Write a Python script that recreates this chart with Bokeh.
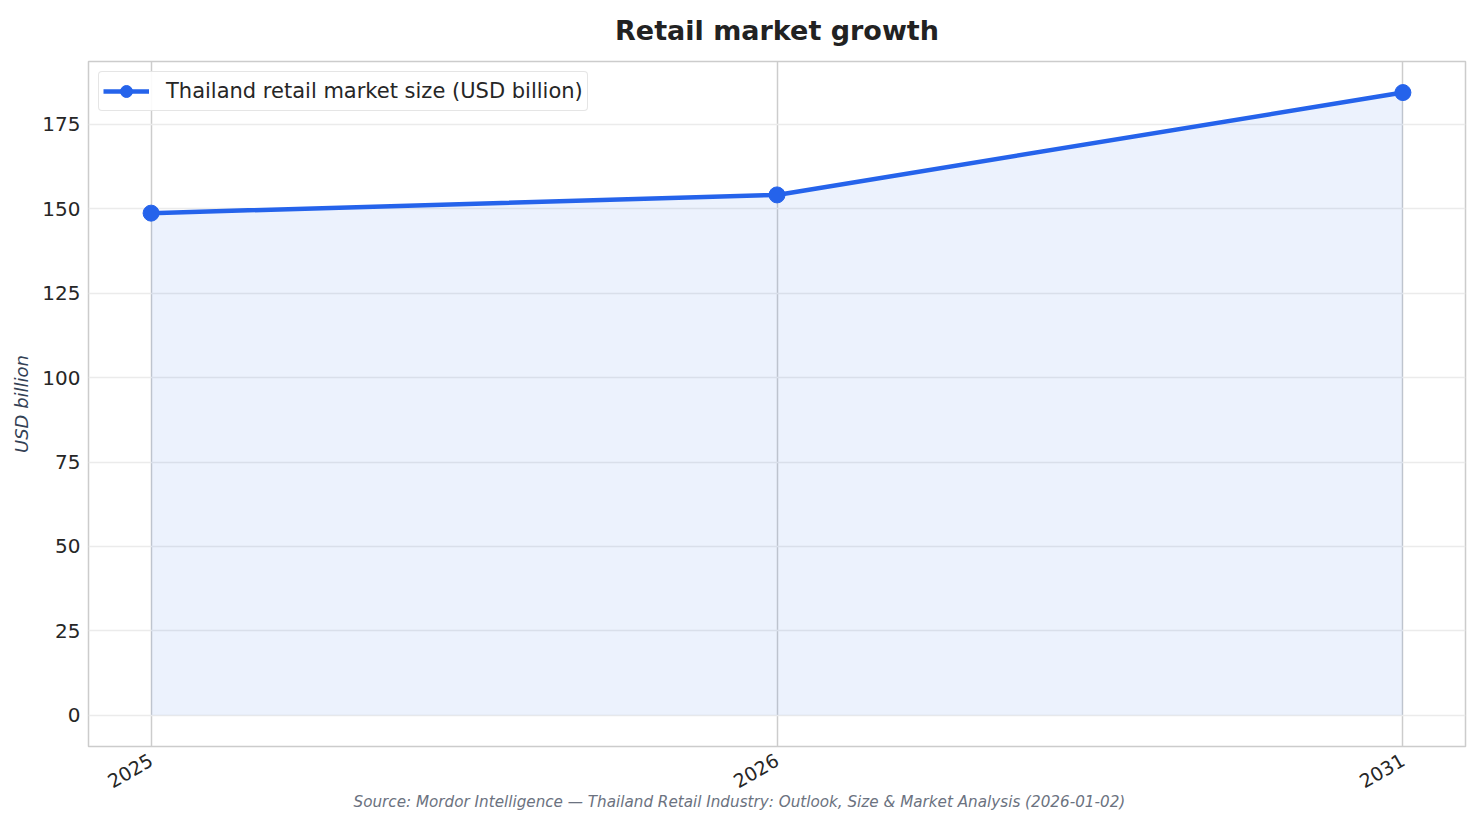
import math
from bokeh.plotting import figure
from bokeh.models import Range1d, FixedTicker, Legend, LegendItem, Title
from bokeh.embed import file_html
from bokeh.resources import INLINE

# Data
years = ["2025", "2026", "2031"]
market_size = [148.7, 154.1, 184.4]
y_ticks = [0, 25, 50, 75, 100, 125, 150, 175]

FONT = "DejaVu Sans"
BLUE = "#2563eb"

xs = list(range(len(years)))

p = figure(width=1473, height=812, output_backend="svg", toolbar_location=None,
           x_range=Range1d(-0.1, 2.1), y_range=Range1d(-9.22, 193.6),
           min_border_left=88, min_border_right=8, min_border_top=61, min_border_bottom=66)

p.background_fill_color = "white"
p.border_fill_color = "white"
p.outline_line_color = "#cccccc"
p.outline_line_width = 1.5

# title
p.title.text = "Retail market growth"
p.title.align = "center"
p.title.vertical_align = "top"
p.title.text_font = FONT
p.title.text_font_size = "27px"
p.title.text_font_style = "bold"
p.title.text_color = "#222222"
p.title.standoff = 28

# fill under the line
p.varea(x=xs, y1=[0] * len(xs), y2=market_size, fill_color=BLUE, fill_alpha=0.085)

line = p.line(x=xs, y=market_size, line_color=BLUE, line_width=4.5)
dots = p.scatter(x=xs, y=market_size, size=16, fill_color=BLUE, line_color=BLUE)

# axes
p.xaxis.ticker = FixedTicker(ticks=xs)
p.xaxis.major_label_overrides = {i: y for i, y in enumerate(years)}
p.xaxis.major_label_orientation = math.pi / 6
p.yaxis.ticker = FixedTicker(ticks=y_ticks)
for ax in (p.xaxis, p.yaxis):
    ax.axis_line_color = None
    ax.major_tick_line_color = None
    ax.minor_tick_line_color = None
    ax.major_tick_out = 0
    ax.major_tick_in = 0
    ax.major_label_text_font = FONT
    ax.major_label_text_color = "#262626"
p.yaxis.major_label_text_font_size = "20px"
p.yaxis.major_label_standoff = 8
p.xaxis.major_label_text_font_size = "19px"
p.xaxis.major_label_standoff = 12

p.yaxis.axis_label = "USD billion"
p.yaxis.axis_label_text_font = FONT
p.yaxis.axis_label_text_font_size = "18px"
p.yaxis.axis_label_text_font_style = "italic"
p.yaxis.axis_label_text_color = "#334155"
p.yaxis.axis_label_standoff = 7

# grids
p.xgrid.ticker = FixedTicker(ticks=xs)
p.xgrid.grid_line_color = "#cccccc"
p.xgrid.grid_line_width = 1.5
p.ygrid.ticker = FixedTicker(ticks=y_ticks)
p.ygrid.grid_line_color = "#ebebeb"
p.ygrid.grid_line_width = 1.6

# legend
legend = Legend(items=[LegendItem(label="Thailand retail market size (USD billion)",
                                  renderers=[line, dots])],
                location="top_left")
legend.label_text_font = FONT
legend.label_text_font_size = "21px"
legend.label_text_color = "#262626"
legend.border_line_color = "#cccccc"
legend.border_line_width = 1.5
legend.border_radius = 4
legend.padding = 4
legend.margin = 10
legend.glyph_width = 46
legend.glyph_height = 30
legend.label_height = 30
legend.label_standoff = 17
legend.background_fill_alpha = 0.9
p.add_layout(legend)

# source note under the chart (tucked up against the rotated year labels)
source = Title(text="Source: Mordor Intelligence \u2014 Thailand Retail Industry: Outlook, Size & Market Analysis (2026-01-02)",
               align="left", offset=265, standoff=-10, vertical_align="top",
               text_font=FONT, text_font_size="15.2px", text_font_style="italic",
               text_color="#6b7280")
p.add_layout(source, "below")

open("out.html", "w").write(file_html(p, INLINE))
